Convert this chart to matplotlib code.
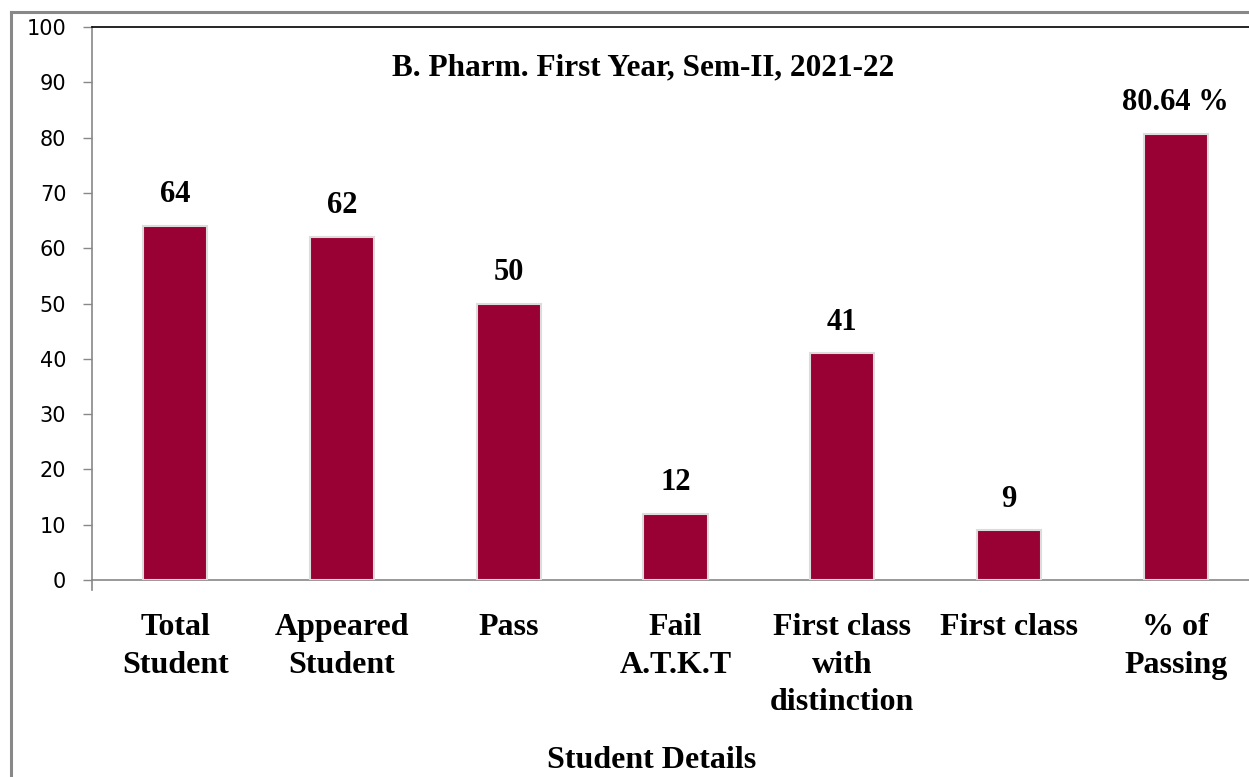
# B. Pharm. First Year result bar chart

import matplotlib
matplotlib.use("Agg")
import matplotlib.pyplot as plt
from matplotlib.lines import Line2D

categories = ["Total\nStudent", "Appeared\nStudent", "Pass", "Fail\nA.T.K.T",
              "First class\nwith\ndistinction", "First class", "% of\nPassing"]
values = [64, 62, 50, 12, 41, 9, 80.64]
value_labels = ["64", "62", "50", "12", "41", "9", "80.64 %"]
yticks = [0, 10, 20, 30, 40, 50, 60, 70, 80, 90, 100]

serif = "Liberation Serif"
bar_color = "#990033"

fig = plt.figure(figsize=(12.49, 7.77), dpi=100)
ax = fig.add_axes([92 / 1249, 1 - 580 / 777, 1167 / 1249, 553 / 777])

x = list(range(len(categories)))
bars = ax.bar(x, values, width=0.385, color=bar_color,
              edgecolor="#dcdcdc", linewidth=1.5, zorder=3)

for xi, v, lab in zip(x, values, value_labels):
    ax.annotate(lab, (xi, v), xytext=(0, 12), textcoords="offset points",
                ha="center", va="bottom", fontsize=22, fontweight="bold",
                family=serif)

ax.set_xlim(-0.5, len(categories) - 0.5)
ax.set_ylim(0, 100)
ax.set_yticks(yticks)
ax.set_yticklabels([str(t) for t in yticks], fontsize=15, family="DejaVu Sans")
ax.tick_params(axis="y", length=6.5, width=1, color="#888888", pad=12)
ax.set_xticks(x)
ax.set_xticklabels(categories, fontsize=23, fontweight="bold", family=serif,
                   linespacing=1.38, va="top")
ax.tick_params(axis="x", length=0, pad=24)

ax.spines["top"].set_color("black")
ax.spines["top"].set_linewidth(1.2)
ax.spines["right"].set_visible(False)
ax.spines["left"].set_color("#888888")
ax.spines["bottom"].set_color("#888888")
ax.spines["left"].set_linewidth(1.2)
ax.spines["bottom"].set_linewidth(1.2)

# small extension of the value axis below zero
ax.add_line(Line2D([0, 0], [0, -0.018], transform=ax.transAxes,
                   color="#888888", lw=1.2, clip_on=False))

ax.text(0.472, 0.926, "B. Pharm. First Year, Sem-II, 2021-22",
        transform=ax.transAxes, ha="center", va="center",
        fontsize=22.5, fontweight="bold", family=serif)

fig.text(652 / 1249, 1 - 760 / 777, "Student Details", ha="center", va="center",
         fontsize=23, fontweight="bold", family=serif)

# outer chart frame
fig.add_artist(Line2D([11 / 1249, 11 / 1249], [0, 1 - 12 / 777],
                      transform=fig.transFigure, color="#888888", lw=2.2))
fig.add_artist(Line2D([11 / 1249, 1], [1 - 12 / 777, 1 - 12 / 777],
                      transform=fig.transFigure, color="#888888", lw=2.2))

fig.savefig("out.png", dpi=100)
